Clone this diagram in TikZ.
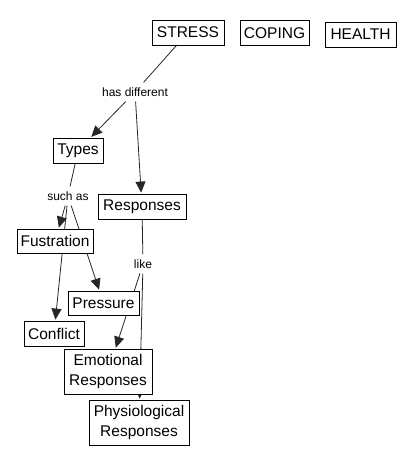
\documentclass[tikz,border=0pt]{standalone}
\usepackage{fontspec}
\setmainfont{Liberation Sans}
\usetikzlibrary{arrows.meta,backgrounds}
\begin{document}
\begin{tikzpicture}[x=1pt,y=-1pt,
  concept/.style={draw=black,fill=white,line width=0.8pt,inner sep=0pt,align=center,font=\fontsize{15.5}{19.5}\selectfont},
  linklabel/.style={inner sep=5pt,font=\fontsize{12}{14}\selectfont},
  conn/.style={draw=black!85,line width=0.8pt},
  arr/.style={conn,-{Triangle[length=11pt,width=10pt]},shorten >=1pt}]
\useasboundingbox (0,0) rectangle (414,465);
\node[concept,minimum width=72pt,minimum height=25pt] (stress) at (188,32.5) {STRESS};
\node[concept,minimum width=69pt,minimum height=25pt] (coping) at (274.5,33) {COPING};
\node[concept,minimum width=71pt,minimum height=25pt] (health) at (360.5,34.5) {HEALTH};
\node[linklabel] (hasdiff) at (135,92) {has different};
\node[concept,minimum width=50pt,minimum height=25pt] (types) at (78,150.5) {Types};
\node[concept,minimum width=88pt,minimum height=25pt] (responses) at (142,206.5) {Responses};
\node[linklabel] (suchas) at (68,196) {such as};
\node[concept,minimum width=76pt,minimum height=24pt] (fust) at (55,241) {Fustration};
\node[linklabel] (like) at (143,264) {like};
\node[concept,minimum width=71pt,minimum height=24pt] (pressure) at (103.5,303) {Pressure};
\node[concept,minimum width=60pt,minimum height=25pt] (conflict) at (54,333.5) {Conflict};
\node[concept,minimum width=88pt,minimum height=45pt] (emot) at (108,371.5) {Emotional\\Responses};
\node[concept,minimum width=100pt,minimum height=45pt] (phys) at (139,422.5) {Physiological\\Responses};
\begin{scope}[on background layer]
\draw[conn] (stress) -- (hasdiff);
\draw[arr] (hasdiff) -- (types);
\draw[arr] (hasdiff) -- (responses);
\draw[conn] (types) -- (suchas);
\draw[arr] (suchas) -- (fust);
\draw[arr] (suchas) -- (pressure);
\draw[arr] (suchas) -- (conflict);
\draw[conn] (responses) -- (like);
\draw[arr] (like) -- (emot);
\draw[arr] (like) -- (phys);
\end{scope}
\end{tikzpicture}
\end{document}
